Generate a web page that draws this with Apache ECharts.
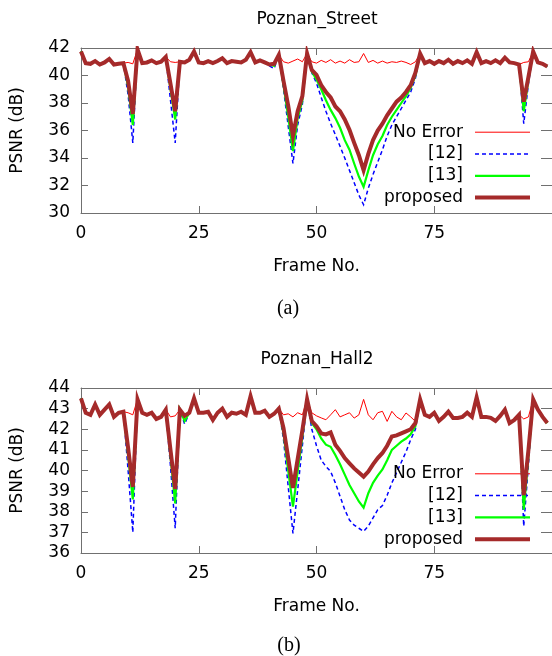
<!DOCTYPE html>
<html><head><meta charset="utf-8">
<script src="https://cdn.jsdelivr.net/npm/echarts@6/dist/echarts.min.js"></script>
<style>html,body{margin:0;padding:0;background:#fff}#c{width:552px;height:656px}</style>
</head><body><div id="c"></div>
<script>
const legendNames = ['No Error', '[12]', '[13]', 'proposed'];
const chartTitles = ['Poznan_Street', 'Poznan_Hall2'];
const captions = ['(a)', '(b)'];
const xAxisName = 'Frame No.';
const yAxisName = 'PSNR (dB)';

const streetNoError = [
 41.75,40.9,40.85,41.05,40.8,40.95,41.2,40.8,40.85,40.9,
 40.95,40.85,41.9,40.9,40.95,41.1,40.9,41.0,41.35,41.0,
 40.95,41.0,40.95,41.15,41.75,40.95,40.9,41.05,40.9,41.05,
 41.25,40.9,41.05,41.0,40.95,41.15,41.7,40.95,41.1,40.95,
 40.8,40.85,41.5,41.0,40.9,41.05,41.2,41.0,41.6,41.0,
 40.9,41.1,40.95,41.15,40.9,41.05,40.9,41.15,40.95,41.0,
 41.6,40.95,41.1,40.9,41.05,40.9,41.0,40.95,41.05,40.95,
 40.8,41.0,41.6,40.9,41.05,40.85,41.05,40.9,41.15,40.85,
 41.05,40.9,41.1,40.85,41.7,40.9,41.05,40.9,41.1,40.9,
 41.3,40.95,40.9,40.8,40.95,41.0,41.75,40.95,40.85,40.65];
const street12 = [
 41.75,40.9,40.85,41.05,40.8,40.95,41.2,40.8,40.85,40.9,
 38.6,35.1,41.9,40.9,40.95,41.1,40.9,41.0,41.35,38.2,
 35.1,41.0,40.95,41.15,41.75,40.95,40.9,41.05,40.9,41.05,
 41.25,40.9,41.05,41.0,40.95,41.15,41.7,40.95,41.1,40.95,
 40.7,40.5,41.5,39.0,36.3,33.6,36.4,37.9,41.6,40.2,
 39.45,38.4,37.4,36.5,35.7,34.85,34.0,33.1,32.2,31.3,
 30.6,31.8,32.8,33.7,34.6,35.6,36.4,37.0,37.6,38.2,
 38.8,39.8,41.6,40.9,41.05,40.85,41.05,40.9,41.15,40.85,
 41.05,40.9,41.1,40.85,41.7,40.9,41.05,40.9,41.1,40.9,
 41.3,40.95,40.9,40.8,36.5,39.4,41.75,40.95,40.85,40.65];
const street13 = [
 41.75,40.9,40.85,41.05,40.8,40.95,41.2,40.8,40.85,40.9,
 39.2,36.4,41.9,40.9,40.95,41.1,40.9,41.0,41.35,39.05,
 36.8,41.0,40.95,41.15,41.75,40.95,40.9,41.05,40.9,41.05,
 41.25,40.9,41.05,41.0,40.95,41.15,41.7,40.95,41.1,40.95,
 40.8,40.7,41.5,39.3,37.0,34.5,36.9,38.2,41.6,40.3,
 39.7,39.0,38.2,37.5,36.9,36.2,35.3,34.6,33.6,32.65,
 31.9,33.1,34.2,35.0,35.6,36.4,37.0,37.5,38.0,38.5,
 39.1,40.0,41.6,40.9,41.05,40.85,41.05,40.9,41.15,40.85,
 41.05,40.9,41.1,40.85,41.7,40.9,41.05,40.9,41.1,40.9,
 41.3,40.95,40.9,40.8,37.4,39.7,41.75,40.95,40.85,40.65];
const streetProposed = [
 41.75,40.9,40.85,41.05,40.8,40.95,41.2,40.8,40.85,40.9,
 39.6,37.2,41.9,40.9,40.95,41.1,40.9,41.0,41.35,39.4,
 37.4,41.0,40.95,41.15,41.75,40.95,40.9,41.05,40.9,41.05,
 41.25,40.9,41.05,41.0,40.95,41.15,41.7,40.95,41.1,40.95,
 40.8,40.85,41.5,39.6,37.8,35.6,37.4,38.5,41.6,40.4,
 40.05,39.3,38.8,38.4,37.75,37.4,36.8,36.05,35.1,34.2,
 33.1,34.3,35.3,36.0,36.5,37.1,37.6,38.1,38.4,38.8,
 39.3,40.2,41.6,40.9,41.05,40.85,41.05,40.9,41.15,40.85,
 41.05,40.9,41.1,40.85,41.7,40.9,41.05,40.9,41.1,40.9,
 41.3,40.95,40.9,40.8,38.1,39.9,41.75,40.95,40.85,40.65];

const hallNoError = [
 43.5,42.8,42.7,43.2,42.7,42.95,43.2,42.6,42.8,42.85,
 42.8,42.7,43.45,42.8,42.7,42.8,42.5,42.6,42.95,42.6,
 42.65,42.95,42.65,42.8,43.5,42.8,42.8,42.85,42.45,42.8,
 43.0,42.6,42.8,42.75,42.85,42.7,43.6,42.8,42.8,42.9,
 42.6,42.75,43.0,42.7,42.75,42.6,42.8,42.7,43.45,42.8,
 42.65,42.55,42.46,42.7,42.95,42.6,42.7,42.8,42.54,42.7,
 43.45,42.7,42.46,42.8,42.87,42.38,42.87,42.6,42.46,42.79,
 42.6,42.38,43.45,42.7,42.6,42.8,42.4,42.6,42.85,42.55,
 42.55,42.6,42.8,42.6,43.55,42.6,42.6,42.55,42.4,42.65,
 42.95,42.3,42.45,42.7,42.5,42.6,43.45,42.95,42.6,42.3];
const hall12 = [
 43.5,42.8,42.7,43.2,42.7,42.95,43.2,42.6,42.8,42.85,
 40.0,37.0,43.45,42.8,42.7,42.8,42.5,42.6,42.95,40.2,
 37.2,42.95,42.25,42.8,43.5,42.8,42.8,42.85,42.45,42.8,
 43.0,42.6,42.8,42.75,42.85,42.7,43.6,42.8,42.8,42.9,
 42.6,42.75,43.0,41.5,39.2,36.95,39.05,41.2,43.45,42.0,
 41.2,40.5,40.2,39.95,39.4,38.75,38.1,37.6,37.35,37.2,
 37.05,37.3,37.7,38.1,38.3,38.8,39.4,39.9,40.4,40.9,
 41.5,42.0,43.45,42.7,42.6,42.8,42.4,42.6,42.85,42.55,
 42.55,42.6,42.8,42.6,43.55,42.6,42.6,42.55,42.4,42.65,
 42.95,42.3,42.45,42.7,37.3,40.3,43.45,42.95,42.6,42.3];
const hall13 = [
 43.5,42.8,42.7,43.2,42.7,42.95,43.2,42.6,42.8,42.85,
 40.75,38.6,43.45,42.8,42.7,42.8,42.5,42.6,42.95,40.7,
 38.4,42.95,42.4,42.8,43.5,42.8,42.8,42.85,42.45,42.8,
 43.0,42.6,42.8,42.75,42.85,42.7,43.6,42.8,42.8,42.9,
 42.6,42.75,43.0,41.8,40.0,38.25,39.95,41.65,43.45,42.3,
 42.0,41.55,41.25,41.15,40.75,40.3,39.8,39.3,38.9,38.5,
 38.2,38.9,39.4,39.75,40.05,40.5,41.0,41.2,41.4,41.55,
 41.75,42.15,43.45,42.7,42.6,42.8,42.4,42.6,42.85,42.55,
 42.55,42.6,42.8,42.6,43.55,42.6,42.6,42.55,42.4,42.65,
 42.95,42.3,42.45,42.7,38.1,40.7,43.45,42.95,42.6,42.3];
const hallProposed = [
 43.5,42.8,42.7,43.2,42.7,42.95,43.2,42.6,42.8,42.85,
 41.1,39.2,43.45,42.8,42.7,42.8,42.5,42.6,42.95,41.0,
 39.1,42.95,42.65,42.8,43.5,42.8,42.8,42.85,42.45,42.8,
 43.0,42.6,42.8,42.75,42.85,42.7,43.6,42.8,42.8,42.9,
 42.6,42.75,43.0,42.05,40.6,39.15,40.55,41.95,43.45,42.4,
 42.15,41.8,41.75,41.85,41.25,40.95,40.6,40.35,40.1,39.9,
 39.7,39.95,40.3,40.6,40.85,41.2,41.65,41.7,41.8,41.9,
 42.0,42.3,43.45,42.7,42.6,42.8,42.4,42.6,42.85,42.55,
 42.55,42.6,42.8,42.6,43.55,42.6,42.6,42.55,42.4,42.65,
 42.95,42.3,42.45,42.7,38.8,41.0,43.45,42.95,42.6,42.3];

const streetYTicks = {min: 30, max: 42, interval: 2};
const hallYTicks = {min: 36, max: 44, interval: 1};
const frameTicks = {min: 0, max: 100, interval: 25};

const FONT = 'DejaVu Sans';
const BORDER = '#707070';
const seriesStyles = [
  {color: '#ff0000', width: 1, type: 'solid'},
  {color: '#0000ff', width: 1.5, type: [4, 3]},
  {color: '#00ff00', width: 2.2, type: 'solid'},
  {color: '#a52a2a', width: 4, type: 'solid'}
];
const datasets = [
  [streetNoError, street12, street13, streetProposed],
  [hallNoError, hall12, hall13, hallProposed]
];
const yTicks = [streetYTicks, hallYTicks];
const gridTops = [48, 388];
const legendTops = [123.7, 465.3];
const titleTops = [11, 351];
const captionTops = [299, 636];
const captionLefts = [288, 289];

const grids = [], xAxes = [], yAxes = [], series = [], legends = [], titles = [];
const txt = {fontFamily: FONT, fontSize: 17, color: '#000'};
for (let g = 0; g < 2; g++) {
  grids.push({left: 81, top: gridTops[g], width: 477, height: 165, containLabel: false});
  const common = {
    type: 'value', gridIndex: g,
    axisLine: {show: true, onZero: false, lineStyle: {color: BORDER, width: 1}},
    axisTick: {show: true, inside: true, length: 7, lineStyle: {color: BORDER, width: 1}},
    splitLine: {show: false}
  };
  xAxes.push(Object.assign({}, common, frameTicks, {
    position: 'bottom',
    axisLabel: Object.assign({margin: 12, showMaxLabel: false}, txt),
    name: xAxisName, nameLocation: 'middle', nameGap: 45, nameTextStyle: txt
  }));
  xAxes.push(Object.assign({}, common, frameTicks, {
    position: 'top', axisLabel: {show: false}
  }));
  yAxes.push(Object.assign({}, common, yTicks[g], {
    position: 'left',
    axisLabel: Object.assign({margin: 11}, txt),
    name: yAxisName, nameLocation: 'middle', nameGap: 55, nameRotate: 90, nameTextStyle: txt
  }));
  yAxes.push(Object.assign({}, common, yTicks[g], {
    position: 'right', axisLabel: {show: false},
    axisTick: {show: true, inside: true, length: 11, lineStyle: {color: BORDER, width: 1}}
  }));
  for (let s = 0; s < 4; s++) {
    const st = seriesStyles[s];
    series.push({
      type: 'line', name: legendNames[s],
      xAxisIndex: 2 * g, yAxisIndex: 2 * g,
      data: datasets[g][s].map((v, i) => [i, v]),
      symbol: 'none', showSymbol: false, animation: false,
      lineStyle: {color: st.color, width: st.width, type: st.type, join: 'miter', miterLimit: 6},
      itemStyle: {color: st.color, opacity: 0},
      emphasis: {disabled: true}, z: 2 + s
    });
  }
  legends.push({
    data: legendNames.map((n, s) => ({
      name: n,
      lineStyle: {color: seriesStyles[s].color, width: seriesStyles[s].width, type: seriesStyles[s].type},
      itemStyle: {opacity: 0}
    })),
    orient: 'vertical', align: 'right',
    right: 20, top: legendTops[g], padding: 0,
    itemWidth: 55, itemHeight: 16, itemGap: 4.8,
    selectedMode: false,
    textStyle: Object.assign({lineHeight: 16, padding: [0, 7, 0, 0]}, txt),
    itemStyle: {opacity: 0}
  });
  titles.push({
    text: chartTitles[g], left: 317, top: titleTops[g], textAlign: 'center', padding: 0,
    textStyle: Object.assign({fontWeight: 'normal'}, txt)
  });
  titles.push({
    text: captions[g], left: captionLefts[g], top: captionTops[g], textAlign: 'center', padding: 0,
    textStyle: {fontFamily: 'Liberation Serif', fontSize: 20, fontWeight: 'normal', color: '#000'}
  });
}

const chart = echarts.init(document.getElementById('c'), null, {renderer: 'canvas'});
chart.setOption({
  backgroundColor: '#fff',
  animation: false,
  title: titles,
  legend: legends,
  grid: grids,
  xAxis: xAxes,
  yAxis: yAxes,
  series: series
});
</script>
</body></html>
